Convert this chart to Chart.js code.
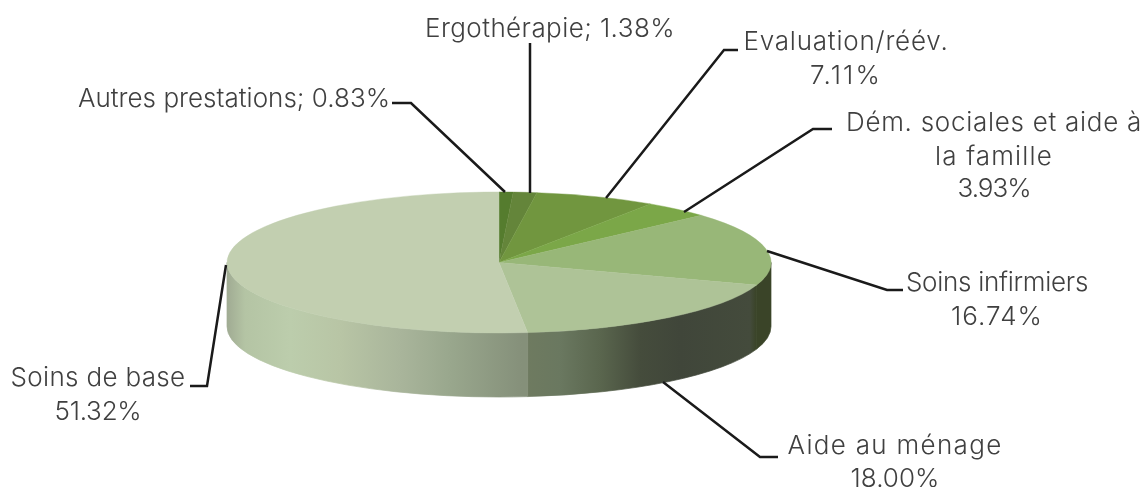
<!DOCTYPE html>
<html><head><meta charset="utf-8">
<style>html,body{margin:0;padding:0;background:#fff}canvas{display:block}</style>
<script src="https://cdn.jsdelivr.net/npm/chart.js@4"></script>
</head><body><canvas id="c" width="1145" height="487"></canvas>
<script>
const categories = ["Autres prestations","Ergothérapie","Evaluation/réév.","Dém. sociales et aide à la famille","Soins infirmiers","Aide au ménage","Soins de base"];
const values = [0.83,1.38,7.11,3.93,16.74,18.00,51.32];
const colors = ["#557c2e","#64853a","#71963f","#7ba748","#98b778","#aec397","#c2cfb0"];
const valueTexts = ["0.83%","1.38%","7.11%","3.93%","16.74%","18.00%","51.32%"];

const PIE = {cx:499, cy:262.5, rx:272, ry:70.5, depth:64};
const FONT = '300 26px Inter, Lato, sans-serif';
const labelLayout = [
 {lines:["Autres prestations; "+valueTexts[0]], widths:[312], cx:234, base:[107], path:[[392,103],[411,103],[505,192]]},
 {lines:["Ergothérapie; "+valueTexts[1]], widths:[250], cx:550, base:[37], path:[[530,43],[530,193]]},
 {lines:["Evaluation/réév.",valueTexts[2]], widths:[205,72], cx:846, base:[50,84], path:[[738,50],[724,50],[606,198]]},
 {lines:["Dém. sociales et aide à","la famille",valueTexts[3]], widths:[296,118,73], cx:994, base:[131,165,197], path:[[832,129],[813,129],[684,212]]},
 {lines:["Soins infirmiers",valueTexts[4]], widths:[182,92], cx:997, base:[291,325], path:[[767,251],[887,290],[903,290]]},
 {lines:["Aide au ménage",valueTexts[5]], widths:[215,89], cx:895, base:[454,487], path:[[663,382],[760,457],[778,457]]},
 {lines:["Soins de base",valueTexts[6]], widths:[175,87], cx:98, base:[386,420], path:[[226,265],[207,386],[190,386]]}
];
// side-wall shading: [x, colour] stops across the pie width
const sideStops = {
 5:[[522,"#6f7b60"],[560,"#6a7860"],[600,"#5a664e"],[640,"#454c3c"],[680,"#40463a"],[750,"#444b3c"],[756,"#3a4428"],[771,"#3a4428"]],
 4:[[745,"#3a4428"],[771,"#3a4428"]],
 6:[[227,"#a0ab93"],[245,"#b4c4a4"],[290,"#bccdac"],[340,"#b8c5a5"],[400,"#a9b59b"],[450,"#99a78d"],[522,"#85907a"]]
};

const pie3d = {
 id:'pie3d',
 beforeDatasetsDraw(chart){
  const ctx = chart.ctx, arcs = chart.getDatasetMeta(0).data;
  const {cx,cy,rx,ry,depth} = PIE;
  // side wall, derived from each arc's angles
  arcs.forEach((a,i)=>{
    const s = Math.max(a.startAngle,0), e = Math.min(a.endAngle,Math.PI);
    if(e<=s) return;
    const g = ctx.createLinearGradient(cx-rx,0,cx+rx,0);
    (sideStops[i]||[[cx-rx,"#444"],[cx+rx,"#444"]]).forEach(([x,c])=>g.addColorStop((x-cx+rx)/(2*rx),c));
    ctx.save();
    ctx.beginPath();
    ctx.ellipse(cx,cy,rx,ry,0,s,e,false);
    ctx.ellipse(cx,cy+depth,rx,ry,0,e,s,true);
    ctx.closePath();
    ctx.fillStyle = g; ctx.fill();
    ctx.strokeStyle = g; ctx.lineWidth = 0.7; ctx.stroke();
    ctx.restore();
  });
  const a0 = arcs[0];
  ctx.save();
  ctx.translate(cx,cy);
  ctx.scale(rx/a0.outerRadius, ry/a0.outerRadius);
  ctx.translate(-a0.x,-a0.y);
 },
 afterDatasetsDraw(chart){
  const ctx = chart.ctx;
  ctx.restore();
  ctx.save();
  ctx.strokeStyle="#1a1a1a"; ctx.lineWidth=2.5; ctx.lineJoin='miter';
  labelLayout.forEach(l=>{
    ctx.beginPath();
    l.path.forEach(([x,y],i)=> i?ctx.lineTo(x,y):ctx.moveTo(x,y));
    ctx.stroke();
  });
  ctx.font=FONT; ctx.fillStyle="#404040"; ctx.textAlign='center'; ctx.textBaseline='alphabetic';
  labelLayout.forEach(l=> l.lines.forEach((t,i)=>{
    ctx.letterSpacing='0px';
    const w = ctx.measureText(t).width;
    ctx.letterSpacing=((l.widths[i]-w)/t.length).toFixed(2)+'px';
    ctx.fillText(t,l.cx,l.base[i]);
  }));
  ctx.restore();
 }
};

new Chart(document.getElementById('c'),{
 type:'pie',
 data:{labels:categories,datasets:[{data:values,backgroundColor:colors,borderWidth:0.6,borderColor:colors}]},
 options:{responsive:false,animation:false,
  plugins:{legend:{display:false},tooltip:{enabled:false}}},
 plugins:[pie3d]
});
</script></body></html>
